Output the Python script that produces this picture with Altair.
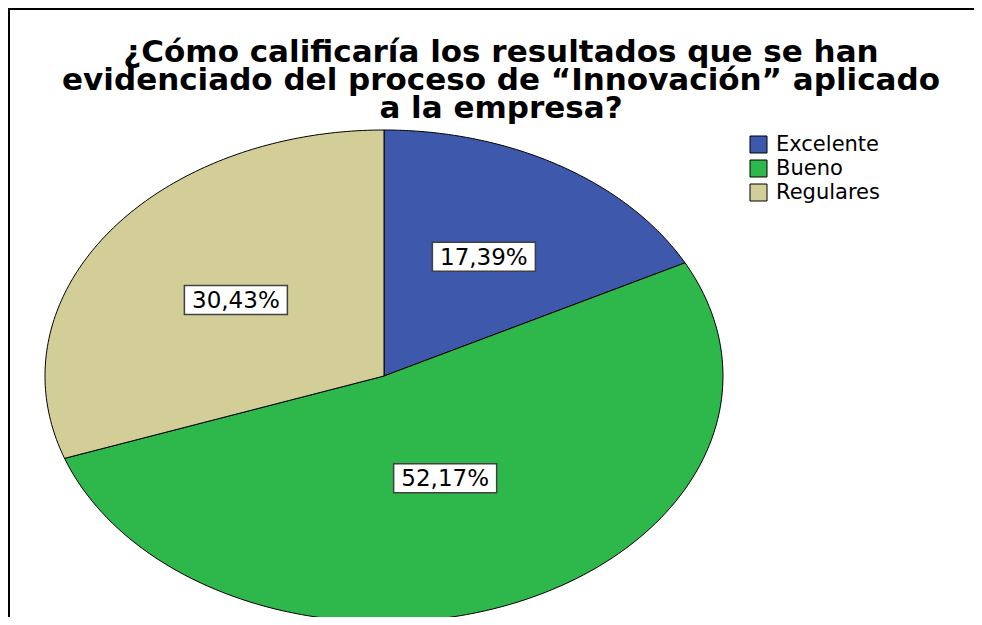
import altair as alt
import pandas as pd

# ---- data ----
categories = ["Excelente", "Bueno", "Regulares"]
values = [17.39, 52.17, 30.43]
colors = ["#3e58ac", "#2eb84b", "#d3ce97"]
title_lines = [
    "¿Cómo calificaría los resultados que se han",
    "evidenciado del proceso de “Innovación” aplicado",
    "a la empresa?",
]

df = pd.DataFrame({"categoria": categories, "valor": values,
                   "orden": list(range(len(categories)))})

# ---- layout (pixels) ----
W, H = 966, 489
PAD_TOP = 120
CX, CY = 376, 248      # pie centre inside the plot area
RX, RY = 339, 246      # elliptical radii
N = 120                # points per arc

xscale = alt.Scale(domain=[-CX / RX, (W - CX) / RX], nice=False, zero=False)
yscale = alt.Scale(domain=[-(H - CY) / RY, CY / RY], nice=False, zero=False)

base = alt.Chart(df).transform_joinaggregate(
    total="sum(valor)"
).transform_window(
    cum="sum(valor)", sort=[alt.SortField("orden")], frame=[None, 0]
).transform_calculate(
    a0="2*PI*(datum.cum - datum.valor)/datum.total",
    a1="2*PI*datum.cum/datum.total",
)

slices = base.transform_calculate(
    i=f"sequence(0, {N + 3})"
).transform_flatten(["i"]).transform_calculate(
    ang=f"datum.a0 + (datum.a1 - datum.a0) * (datum.i - 1) / {N}",
    edge=f"datum.i == 0 || datum.i == {N + 2} ? 0 : 1",
).transform_calculate(
    px="datum.edge * sin(datum.ang)",
    py="datum.edge * cos(datum.ang)",
).mark_line(stroke="black", strokeWidth=1, strokeJoin="round", clip=True).encode(
    x=alt.X("px:Q", scale=xscale, axis=None),
    y=alt.Y("py:Q", scale=yscale, axis=None),
    fill=alt.Fill(
        "categoria:N",
        scale=alt.Scale(domain=categories, range=colors),
        sort=categories,
        legend=alt.Legend(
            title=None, orient="none", legendX=740, legendY=6, padding=0,
            symbolType="square", symbolSize=289, symbolStrokeColor="black",
            symbolStrokeWidth=1, labelFont="DejaVu Sans", labelFontSize=21,
            labelColor="black", labelOffset=7, rowPadding=2,
        ),
    ),
    detail="categoria:N",
    order=alt.Order("i:Q"),
)

lab = base.transform_calculate(
    half="(datum.a1 - datum.a0)/2",
    mid="(datum.a0 + datum.a1)/2",
).transform_calculate(
    d="(2*sin(datum.half)/(3*datum.half) + 0.5)/2",
).transform_calculate(
    lx="datum.d*sin(datum.mid)",
    ly="datum.d*cos(datum.mid)",
    etiqueta="replace(format(datum.valor, '.2f'), '.', ',') + '%'",
)

boxes = lab.mark_point(
    shape="M-1,-0.2816L1,-0.2816L1,0.2816L-1,0.2816Z", size=103 * 103,
    filled=True, fill="white", stroke="#404040", strokeWidth=1.5, opacity=1,
).encode(
    x=alt.X("lx:Q", scale=xscale, axis=None),
    y=alt.Y("ly:Q", scale=yscale, axis=None),
)

texts = lab.mark_text(
    font="DejaVu Sans", fontSize=23, color="black", baseline="middle", dy=1,
).encode(
    x=alt.X("lx:Q", scale=xscale, axis=None),
    y=alt.Y("ly:Q", scale=yscale, axis=None),
    text="etiqueta:N",
)

single = alt.Chart(pd.DataFrame({"f": [0]}))

title = single.mark_text(
    text=title_lines, font="DejaVu Sans", fontSize=31, fontWeight="bold",
    color="black", align="center", baseline="alphabetic", lineHeight=28,
).encode(x=alt.value(493), y=alt.value(62 - 8 - PAD_TOP))

top_line = single.mark_rule(color="black", strokeWidth=2).encode(
    x=alt.value(0), x2=alt.value(W), y=alt.value(-PAD_TOP + 1)
)
left_line = single.mark_rule(color="black", strokeWidth=2).encode(
    x=alt.value(1), y=alt.value(-PAD_TOP), y2=alt.value(H)
)

chart = alt.layer(slices, boxes, texts, title, top_line, left_line).properties(
    width=W, height=H,
    padding={"top": PAD_TOP, "left": 0, "right": 0, "bottom": 0},
    autosize=alt.AutoSizeParams(type="none"),
    background="white",
).configure_view(stroke=None)

chart.save("out.html", embed_options={"renderer": "svg", "actions": False})
